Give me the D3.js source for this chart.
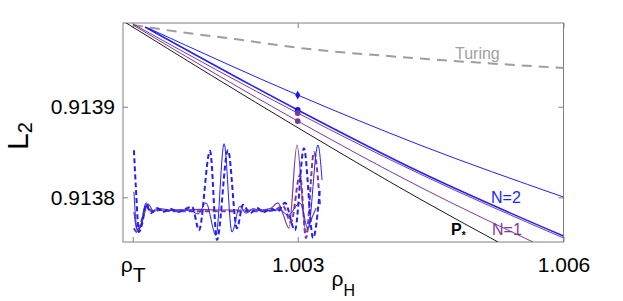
<!DOCTYPE html>
<html>
<head>
<meta charset="utf-8">
<script src="https://cdn.jsdelivr.net/npm/d3@7"></script>
<style>
  body { margin: 0; background: #fff; }
  svg { display: block; font-family: 'Liberation Sans', Arial, Helvetica, sans-serif; }
</style>
</head>
<body>
<svg id="chart" width="623" height="301"></svg>
<script>
// axis ticks
var rhoTicks = [1.001138, 1.003, 1.006]
var rhoTickLabels = ['ρ', '1.003', '1.006']
var rhoTickSubs = ['T', '', '']
var lTicks = [0.9138, 0.9139]

// P* line (black)
var rhoStar = [1.001028, 1.003026, 1.004380, 1.005261]
var lStar = [0.9139946, 0.9138754, 0.9137981, 0.9137507]

// Turing curve (grey dashed)
var rhoTuring = [1.001141, 1.001672, 1.002292, 1.003026, 1.004155, 1.005283, 1.006]
var lTuring = [0.9139902, 0.9139824, 0.9139747, 0.9139648, 0.9139549, 0.9139471, 0.9139427]

// N=2 branches (blue)
var rhoBlueUpper = [1.001310, 1.003, 1.004380, 1.006]
var lBlueUpper = [0.9139869, 0.9139129, 0.9138577, 0.9138003]
var rhoBlueLower = [1.001277, 1.003, 1.004380, 1.006]
var lBlueLower = [0.9139880, 0.9138964, 0.9138279, 0.9137573]

// N=1 branches (purple)
var rhoPurpleUpper = [1.001141, 1.003, 1.004380, 1.006]
var lPurpleUpper = [0.9139913, 0.9138930, 0.9138257, 0.9137551]
var rhoPurpleLower = [1.001141, 1.003, 1.004380, 1.005656]
var lPurpleLower = [0.9139902, 0.9138842, 0.9138114, 0.9137507]

// markers at rho = 1.003
var markerRho = 1.003
var markerL = [0.9139129, 0.9138964, 0.9138930, 0.9138842]
var markerKind = ['diamond', 'circle', 'circle', 'circle']
var markerColor = ['#1414ff', '#1414ff', '#7a3a92', '#7a3a92']

// inset profiles: position s (0..1) and amplitude u
var blueDashS = [0.005, 0.016, 0.032, 0.048, 0.070, 0.096, 0.128, 0.160, 0.198, 0.241, 0.283, 0.316, 0.353, 0.412, 0.449, 0.508, 0.556, 0.588, 0.626, 0.663, 0.701, 0.738, 0.775, 0.813, 0.866, 0.914, 0.963, 1.000]
var blueDashU = [0.92, 0.31, -0.34, -0.22, 0.08, -0.05, 0.03, -0.03, 0.02, -0.03, 0.02, 0.05, -0.31, 0.91, -0.46, 0.92, -0.28, 0.08, -0.05, 0.03, -0.03, 0.02, -0.02, 0.11, -0.31, 0.95, -0.43, 0.34]
var blueSolidS = [0.005, 0.016, 0.027, 0.043, 0.070, 0.096, 0.128, 0.171, 0.225, 0.278, 0.316, 0.348, 0.390, 0.444, 0.487, 0.529, 0.572, 0.604, 0.642, 0.690, 0.743, 0.786, 0.829, 0.893, 0.936, 0.989, 1.011]
var blueSolidU = [0.28, -0.19, -0.34, -0.22, 0.11, -0.03, 0.02, -0.02, 0, 0, -0.02, -0.06, 0.11, -0.39, 1.02, -0.34, 0.06, -0.05, 0.02, -0.02, 0, 0, -0.08, 0.11, -0.28, 1.0, 0.46]
var purpleSolidS = [0.005, 0.016, 0.027, 0.048, 0.080, 0.112, 0.144, 0.198, 0.278, 0.358, 0.439, 0.519, 0.599, 0.679, 0.733, 0.775, 0.802, 0.834, 0.877, 0.925, 0.957, 0.979]
var purpleSolidU = [-0.03, -0.25, -0.31, -0.19, 0.09, -0.02, 0.02, 0, 0, 0.01, 0, 0, 0, 0, 0.02, 0.11, -0.06, -0.28, 1.0, -0.34, -0.12, 0.03]
var purpleDashS = [0.005, 0.021, 0.043, 0.075, 0.107, 0.144, 0.225, 0.305, 0.385, 0.465, 0.545, 0.626, 0.706, 0.759, 0.802, 0.845, 0.893, 0.925, 0.968, 1.000]
var purpleDashU = [-0.28, -0.34, -0.19, 0.08, -0.03, 0, -0.02, -0.02, -0.02, -0.02, -0.02, -0.02, -0.02, 0, 0.06, -0.19, 0.54, -0.43, 0.89, 0.08]

var BLUE = '#1f1fff'
var PURPLE = '#7e3a96'
var FRAME = '#808080'

var margin = { top: 23, right: 59.5, bottom: 59, left: 123 }
var svg = d3.select('#chart')
var width = +svg.attr('width') - margin.left - margin.right
var height = +svg.attr('height') - margin.top - margin.bottom

var x = d3.scaleLinear().domain([1.001028, 1.006]).range([margin.left, margin.left + width])
var y = d3.scaleLinear().domain([0.9137507, 0.9139924]).range([margin.top + height, margin.top])

// inset lives in the lower left corner of the axes
var xs = d3.scaleLinear().domain([0, 1]).range([133, 320])
var us = d3.scaleLinear().domain([-1, 1]).range([275, 145])

svg.append('defs').append('clipPath')
  .attr('id', 'plot-clip')
  .append('rect')
  .attr('x', margin.left)
  .attr('y', margin.top)
  .attr('width', width)
  .attr('height', height)

/**
 * @param {*} xs array of x values
 * @param {*} ys array of y values
 * @returns array of [x, y] pairs
 */
function zip (xs, ys) {
  return xs.map(function (d, i) { return [d, ys[i]] })
}

/**
 * @param {*} g group to draw in
 * @param {*} pts [x, y] pairs in data units
 * @param {*} sx x scale
 * @param {*} sy y scale
 * @param {*} style stroke settings
 */
function drawLine (g, pts, sx, sy, style) {
  var line = d3.line()
    .x(function (d) { return sx(d[0]) })
    .y(function (d) { return sy(d[1]) })
    .curve(d3.curveMonotoneX)
  g.append('path')
    .datum(pts)
    .attr('d', line)
    .attr('fill', 'none')
    .attr('stroke', style.color)
    .attr('stroke-width', style.width)
    .attr('stroke-dasharray', style.dash || null)
}

function drawAxes () {
  var bottom = svg.append('g')
    .attr('transform', 'translate(0,' + (margin.top + height) + ')')
    .call(d3.axisBottom(x).tickValues(rhoTicks).tickSizeInner(-5).tickSizeOuter(0).tickPadding(15)
      .tickFormat(function (d, i) { return rhoTickLabels[i] }))
  bottom.selectAll('.tick text').each(function (d, i) {
    if (rhoTickSubs[i]) {
      d3.select(this).append('tspan').attr('dy', 10).text(rhoTickSubs[i])
    }
  })

  var top = svg.append('g')
    .attr('transform', 'translate(0,' + margin.top + ')')
    .call(d3.axisTop(x).tickValues(rhoTicks).tickSizeInner(-5).tickSizeOuter(0).tickFormat(''))

  var left = svg.append('g')
    .attr('transform', 'translate(' + margin.left + ',0)')
    .call(d3.axisLeft(y).tickValues(lTicks).tickSizeInner(-5).tickSizeOuter(0).tickPadding(8)
      .tickFormat(d3.format('.4f')))

  var right = svg.append('g')
    .attr('transform', 'translate(' + (margin.left + width) + ',0)')
    .call(d3.axisRight(y).tickValues(lTicks).tickSizeInner(-5).tickSizeOuter(0).tickFormat(''))

  ;[bottom, top, left, right].forEach(function (g) {
    g.attr('font-family', null).attr('font-size', 21).attr('color', FRAME)
    g.select('.domain').remove()
    g.selectAll('.tick text').attr('fill', '#000')
  })

  svg.append('rect')
    .attr('x', margin.left)
    .attr('y', margin.top)
    .attr('width', width)
    .attr('height', height)
    .attr('fill', 'none')
    .attr('stroke', FRAME)
    .attr('stroke-width', 1)

  var xl = svg.append('text')
    .attr('x', margin.left + width / 2)
    .attr('y', 286)
    .attr('text-anchor', 'middle')
    .attr('font-size', 21)
  xl.append('tspan').text('ρ')
  xl.append('tspan').attr('font-size', 16).attr('dy', 10).text('H')

  var yl = svg.append('text')
    .attr('transform', 'translate(28,136) rotate(-90)')
    .attr('text-anchor', 'middle')
    .attr('font-size', 30)
  yl.append('tspan').text('L')
  yl.append('tspan').attr('font-size', 20).attr('dy', 4).text('2')
}

function drawBranches () {
  var g = svg.append('g').attr('clip-path', 'url(#plot-clip)')

  drawLine(g, zip(rhoTuring, lTuring), x, y, { color: '#9e9e9e', width: 2, dash: '10,7' })
  drawLine(g, zip(rhoStar, lStar), x, y, { color: '#1a1a1a', width: 1 })
  drawLine(g, zip(rhoPurpleLower, lPurpleLower), x, y, { color: PURPLE, width: 1 })
  drawLine(g, zip(rhoPurpleUpper, lPurpleUpper), x, y, { color: PURPLE, width: 1 })
  drawLine(g, zip(rhoBlueLower, lBlueLower), x, y, { color: BLUE, width: 1.5 })
  drawLine(g, zip(rhoBlueUpper, lBlueUpper), x, y, { color: BLUE, width: 1 })

  // inset profiles
  drawLine(g, zip(purpleSolidS, purpleSolidU), xs, us, { color: PURPLE, width: 1.2 })
  drawLine(g, zip(purpleDashS, purpleDashU), xs, us, { color: PURPLE, width: 2, dash: '5,3' })
  drawLine(g, zip(blueSolidS, blueSolidU), xs, us, { color: BLUE, width: 1 })
  drawLine(g, zip(blueDashS, blueDashU), xs, us, { color: BLUE, width: 2, dash: '5,3' })

  g.selectAll('.marker')
    .data(markerL)
    .enter()
    .append('path')
    .attr('class', 'marker')
    .attr('transform', function (d) { return 'translate(' + x(markerRho) + ',' + y(d) + ')' })
    .attr('d', function (d, i) {
      var type = markerKind[i] === 'diamond' ? d3.symbolDiamond : d3.symbolCircle
      return d3.symbol().type(type).size(markerKind[i] === 'diamond' ? 22 : 26)()
    })
    .attr('fill', function (d, i) { return markerColor[i] })
}

function drawLabels () {
  svg.append('text')
    .attr('x', 455)
    .attr('y', 59)
    .attr('font-size', 16)
    .attr('fill', '#a0a0a0')
    .text('Turing')

  svg.append('text')
    .attr('x', 491)
    .attr('y', 203)
    .attr('font-size', 16)
    .attr('fill', BLUE)
    .text('N=2')

  svg.append('text')
    .attr('x', 492)
    .attr('y', 235)
    .attr('font-size', 16)
    .attr('fill', PURPLE)
    .text('N=1')

  var p = svg.append('text')
    .attr('x', 451)
    .attr('y', 235)
    .attr('font-size', 16)
    .attr('font-weight', 'bold')
  p.append('tspan').text('P')
  p.append('tspan').attr('font-size', 10).attr('dy', 4).text('*')
}

drawAxes()
drawBranches()
drawLabels()
</script>
</body>
</html>
